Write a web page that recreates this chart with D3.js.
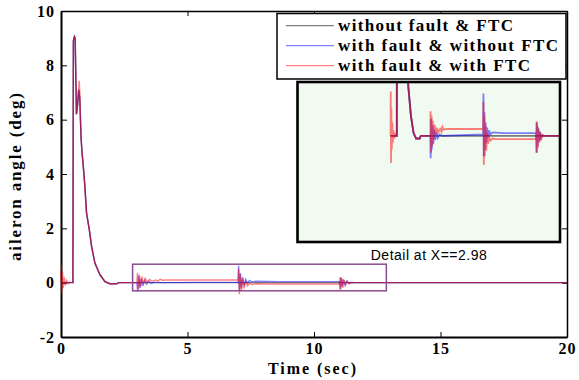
<!DOCTYPE html>
<html>
<head>
<meta charset="utf-8">
<script src="https://cdn.jsdelivr.net/npm/d3@7"></script>
<style>
  body { margin: 0; background: #fff; }
  svg { display: block; }
</style>
</head>
<body>
<div id="chart"></div>
<script>
const width = 579, height = 380;

// tick values
const xTicks = [0, 5, 10, 15, 20];
const yTicks = [-2, 0, 2, 4, 6, 8, 10];

const seriesNames = ["without fault & FTC", "with fault & without FTC", "with fault & with FTC"];
const seriesColors = ["#000000", "#0000ff", "#ff0000"];

// common part of the manoeuvre, [time, deg]
const rise = [[0.47, 0], [0.49, 8.9], [0.53, 9.06], [0.56, 9.0], [0.61, 6.2], [0.65, 6.5]];
const decay = [[0.79, 5.4], [0.83, 4.8], [0.87, 4.4], [0.94, 3.6], [1.01, 2.56], [1.12, 1.94],
  [1.21, 1.33], [1.34, 0.72], [1.54, 0.29], [1.74, 0.04], [1.93, -0.04], [2.2, -0.04], [2.28, 0], [2.95, 0]];

// red has a small burst at t=0 and a higher second peak
const redStart = [[0, 0], [0.01, 0.65], [0.03, -0.4], [0.06, 0.4], [0.09, -0.2], [0.13, 0.2], [0.17, -0.1],
  [0.22, 0.08], [0.28, -0.04], [0.35, 0.02], [0.42, 0]];
const redPeak = [[0.72, 7.43], [0.75, 6.9]];
const bluePeak = [[0.7, 7.1], [0.74, 6.8]];

// fault responses
const blueFault3 = [[3.0, 0], [3.03, -0.33], [3.07, 0.25], [3.12, -0.2], [3.17, 0.15], [3.23, -0.12], [3.3, 0.09],
  [3.38, -0.06], [3.47, 0.05], [3.57, -0.03], [3.7, 0.02], [3.9, 0.0], [7.0, 0.02]];
const blueFault7 = [[7.02, 0.62], [7.05, -0.3], [7.09, 0.35], [7.13, -0.2], [7.18, 0.2], [7.24, -0.1], [7.3, 0.12],
  [7.37, -0.02], [7.45, 0.08], [7.55, 0.02], [7.7, 0.05], [8.6, 0.04], [11.0, 0.04]];
const blueFault11 = [[11.03, -0.25], [11.07, 0.2], [11.11, -0.15], [11.16, 0.12], [11.22, -0.08], [11.29, 0.06],
  [11.37, -0.03], [11.46, 0.01], [11.6, 0]];

const redFault3 = [[3.0, 0], [3.02, 0.36], [3.06, -0.25], [3.1, 0.3], [3.15, -0.15], [3.2, 0.22], [3.26, -0.05],
  [3.33, 0.16], [3.4, 0.02], [3.5, 0.12], [3.6, 0.05], [3.75, 0.1], [3.85, 0.06], [3.92, 0.13], [4.0, 0.09],
  [4.2, 0.1], [7.0, 0.1]];
const redFault7 = [[7.02, 0.5], [7.05, -0.43], [7.09, 0.3], [7.13, -0.3], [7.18, 0.15], [7.24, -0.22], [7.3, 0.05],
  [7.37, -0.12], [7.45, -0.02], [7.55, -0.07], [7.7, -0.04], [8.0, -0.05], [11.0, -0.05]];
const redFault11 = [[11.03, 0.21], [11.06, -0.25], [11.1, 0.15], [11.14, -0.18], [11.19, 0.1], [11.25, -0.1],
  [11.32, 0.05], [11.4, -0.04], [11.5, 0.01], [11.6, 0]];

const blackPts = [[0, 0], ...rise, ...bluePeak, ...decay, [20, 0]];
const bluePts = [[0, 0], ...rise, ...bluePeak, ...decay, ...blueFault3, ...blueFault7, ...blueFault11, [20, 0]];
const redPts = [...redStart, ...rise, ...redPeak, ...decay, ...redFault3, ...redFault7, ...redFault11, [20, 0]];
const allSeries = [blackPts, bluePts, redPts];

// magnified region marked on the main plot, and the inset window
const zoomBox = { t0: 2.83, t1: 12.86, v0: -0.3, v1: 0.68 };
const insetDomainX = [-7.04, 12.81];
const insetDomainY = [-1.56, 0.79];

const serif = "'Liberation Serif', 'Times New Roman', serif";

const svg = d3.select("#chart").append("svg").attr("width", width).attr("height", height);

const x = d3.scaleLinear().domain([0, 20]).range([61, 567]);
const y = d3.scaleLinear().domain([-2, 10]).range([337, 11]);

//axes, ticks inward like matlab
svg.append("g")
  .attr("class", "xAxis")
  .attr("transform", `translate(0, ${y(-2)})`)
  .call(d3.axisBottom(x).tickValues(xTicks).tickSizeInner(-5).tickSizeOuter(0).tickPadding(6).tickFormat(d => String(d)))
  .call(g => g.select(".domain").attr("stroke-width", 2));
svg.append("g")
  .attr("class", "yAxis")
  .attr("transform", `translate(${x(0)}, 0)`)
  .call(d3.axisLeft(y).tickValues(yTicks).tickSizeInner(-6).tickSizeOuter(0).tickPadding(6).tickFormat(d => String(d)))
  .call(g => g.select(".domain").attr("stroke-width", 2));
svg.append("g")
  .attr("transform", `translate(0, ${y(10)})`)
  .call(d3.axisTop(x).tickValues(xTicks).tickSizeInner(-5).tickSizeOuter(0).tickFormat(""))
  .call(g => g.select(".domain").attr("stroke-width", 1.5));
svg.append("g")
  .attr("transform", `translate(${x(20)}, 0)`)
  .call(d3.axisRight(y).tickValues(yTicks).tickSizeInner(-5).tickSizeOuter(0).tickFormat(""))
  .call(g => g.select(".domain").attr("stroke-width", 1.5));

svg.selectAll(".xAxis .tick text, .yAxis .tick text")
  .style("font-family", serif)
  .style("font-weight", "bold")
  .style("font-size", "16px")
  .style("letter-spacing", "1px")
  .attr("fill", "#000");

//main lines
const lineMain = d3.line().x(d => x(d[0])).y(d => y(d[1]));
svg.append("g").selectAll("path")
  .data(allSeries)
  .enter()
  .append("path")
  .attr("d", d => lineMain(d))
  .attr("fill", "none")
  .attr("stroke", (d, i) => seriesColors[i])
  .attr("stroke-opacity", 0.5)
  .attr("stroke-width", 1.4);

//zoom box
svg.append("rect")
  .attr("x", x(zoomBox.t0))
  .attr("y", y(zoomBox.v1))
  .attr("width", x(zoomBox.t1) - x(zoomBox.t0))
  .attr("height", y(zoomBox.v0) - y(zoomBox.v1))
  .attr("fill", "none")
  .attr("stroke", "#8c4b8c")
  .attr("stroke-width", 1.5);

//inset
const ix = d3.scaleLinear().domain(insetDomainX).range([297.5, 560]);
const iy = d3.scaleLinear().domain(insetDomainY).range([242, 82]);

svg.append("clipPath").attr("id", "insetClip")
  .append("rect")
  .attr("x", ix.range()[0]).attr("y", iy.range()[1])
  .attr("width", ix.range()[1] - ix.range()[0])
  .attr("height", iy.range()[0] - iy.range()[1]);

svg.append("rect")
  .attr("x", ix.range()[0]).attr("y", iy.range()[1])
  .attr("width", ix.range()[1] - ix.range()[0])
  .attr("height", iy.range()[0] - iy.range()[1])
  .attr("fill", "#f1faf0");

const lineInset = d3.line().x(d => ix(d[0])).y(d => iy(d[1]));
svg.append("g").attr("clip-path", "url(#insetClip)")
  .selectAll("path")
  .data(allSeries)
  .enter()
  .append("path")
  .attr("d", d => lineInset(d))
  .attr("fill", "none")
  .attr("stroke", (d, i) => seriesColors[i])
  .attr("stroke-opacity", 0.5)
  .attr("stroke-width", 1.8);

svg.append("rect")
  .attr("x", ix.range()[0]).attr("y", iy.range()[1])
  .attr("width", ix.range()[1] - ix.range()[0])
  .attr("height", iy.range()[0] - iy.range()[1])
  .attr("fill", "none")
  .attr("stroke", "#000")
  .attr("stroke-width", 2.6);

svg.append("text")
  .attr("x", (ix.range()[0] + ix.range()[1]) / 2)
  .attr("y", 260)
  .attr("text-anchor", "middle")
  .style("font-family", "'Liberation Sans', Arial, sans-serif")
  .style("font-size", "14px")
  .attr("textLength", 116)
  .text("Detail at X==2.98");

//legend
const legend = svg.append("g");
legend.append("rect")
  .attr("x", 277).attr("y", 13.5)
  .attr("width", 289).attr("height", 65.5)
  .attr("fill", "#fff")
  .attr("stroke", "#000")
  .attr("stroke-width", 1.5);
const legendLens = [175, 220, 192];
seriesNames.forEach((name, i) => {
  const ly = 25.7 + i * 20;
  legend.append("line")
    .attr("x1", 286).attr("x2", 334)
    .attr("y1", ly).attr("y2", ly)
    .attr("stroke", seriesColors[i])
    .attr("stroke-opacity", 0.5)
    .attr("stroke-width", 1.2);
  legend.append("text")
    .attr("x", 338).attr("y", ly + 5.5)
    .style("font-family", serif)
    .style("font-weight", "bold")
    .style("font-size", "17px")
    .attr("textLength", legendLens[i])
    .text(name);
});

//axis titles
svg.append("text")
  .attr("x", 312).attr("y", 374)
  .attr("text-anchor", "middle")
  .style("font-family", serif)
  .style("font-weight", "bold")
  .style("font-size", "16px")
  .attr("textLength", 88)
  .text("Time (sec)");

svg.append("g")
  .attr("transform", "translate(21, 177)")
  .append("text")
  .attr("transform", "rotate(-90)")
  .attr("text-anchor", "middle")
  .style("font-family", serif)
  .style("font-weight", "bold")
  .style("font-size", "17px")
  .attr("textLength", 168)
  .text("aileron angle (deg)");
</script>
</body>
</html>
